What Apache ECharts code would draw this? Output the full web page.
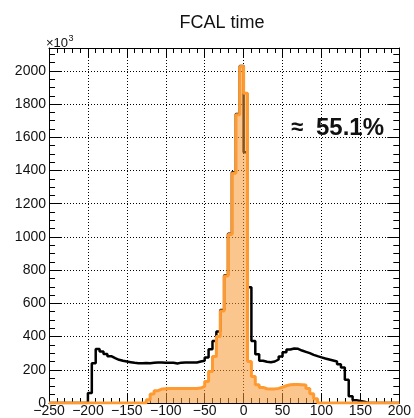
<!DOCTYPE html>
<html>
<head>
<meta charset="utf-8">
<script src="https://cdn.jsdelivr.net/npm/echarts@6/dist/echarts.min.js"></script>
<style>
  html, body { margin: 0; padding: 0; background: #fff; }
  #chart { width: 414px; height: 418px; }
</style>
</head>
<body>
<div id="chart"></div>
<script>
// FCAL hit time distribution: 5 ns bins from -250 ns to 200 ns, counts in units of 10^3
const binLow = -250;
const binWidth = 5;
const binHigh = 200;

// all FCAL hits
const allHits = [
  0, 0, 0, 0, 0, 0, 0, 0, 0, 0,
  60, 240, 325, 310, 295, 282, 270, 260, 254, 250,
  246, 242, 240, 240, 241, 240, 242, 244, 244, 243,
  243, 242, 238, 243, 244, 244, 244, 244, 250, 254,
  274, 324, 374, 430, 560, 770, 1020, 1390, 1740, 2030,
  1510, 697, 374, 294, 254, 248, 246, 250, 262, 280,
  305, 322, 328, 326, 316, 308, 300, 290, 282, 275,
  268, 262, 256, 250, 234, 214, 140, 40, 16, 12,
  8, 0, 0, 0, 0, 0, 0, 0, 0, 0
];

// selected hits (filled histogram)
const selectedHits = [
  0, 0, 0, 0, 0, 0, 0, 0, 0, 0,
  0, 0, 0, 0, 0, 0, 0, 0, 0, 0,
  0, 0, 0, 0, 0, 20, 54, 74, 84, 86,
  87, 88, 87, 88, 88, 88, 88, 88, 90, 100,
  130, 190, 280, 400, 554, 765, 1015, 1384, 1736, 2026,
  1866, 250, 160, 110, 94, 86, 84, 85, 88, 95,
  104, 110, 112, 112, 110, 108, 88, 56, 26, 0,
  0, 0, 0, 0, 0, 0, 0, 0, 0, 0,
  0, 0, 0, 0, 0, 0, 0, 0, 0, 0
];

const yMax = 2138;
const titleText = 'FCAL time';
const fractionText = '55.1%';

const FONT = '"Liberation Sans", Arial, Helvetica, sans-serif';
const INK = '#111';

// bin edges -> step points (left edge of each bin, plus the closing edge)
function stepPoints(counts) {
  const pts = counts.map((c, i) => [binLow + i * binWidth, c]);
  pts.push([binHigh, counts[counts.length - 1]]);
  return pts;
}

const minus = v => (v < 0 ? '\u2212' + (-v) : String(v));

const xCommon = {
  type: 'value', min: binLow, max: binHigh, interval: 50,
  axisLine: { show: true, onZero: false, lineStyle: { color: '#000', width: 1 } },
  axisTick: { show: true, inside: true, length: 9, lineStyle: { color: '#000', width: 1 } },
  minorTick: { show: true, splitNumber: 5, length: 5, lineStyle: { color: '#000', width: 1 } }
};
const yMajor = {
  type: 'value', min: 0, max: yMax, interval: 200,
  axisLine: { show: true, onZero: false, lineStyle: { color: '#000', width: 1 } },
  axisTick: { show: true, inside: true, length: 12, lineStyle: { color: '#000', width: 1 } }
};
const yMinor = {
  type: 'value', min: 0, max: yMax, interval: 50,
  axisLine: { show: false, onZero: false },
  axisTick: { show: true, inside: true, length: 6, lineStyle: { color: '#000', width: 1 } },
  axisLabel: { show: false },
  splitLine: { show: false }
};

const chart = echarts.init(document.getElementById('chart'), null, { renderer: 'canvas' });
chart.setOption({
  animation: false,
  backgroundColor: '#fff',
  grid: { left: 49, right: 12, top: 48, bottom: 14, containLabel: false },
  xAxis: [
    Object.assign({}, xCommon, {
      position: 'bottom',
      splitLine: { show: true, lineStyle: { color: '#000', width: 1, type: [1, 2] } },
      axisLabel: { show: true, margin: 1, fontSize: 14, color: INK, fontFamily: FONT, formatter: minus }
    }),
    Object.assign({}, xCommon, {
      position: 'top',
      splitLine: { show: false },
      axisLabel: { show: false }
    })
  ],
  yAxis: [
    Object.assign({}, yMajor, {
      position: 'left',
      splitLine: { show: true, lineStyle: { color: '#000', width: 1, type: [1, 2] } },
      axisLabel: {
        show: true, margin: 3, fontSize: 14, color: INK, fontFamily: FONT,
        formatter: v => (v % 200 === 0 && v <= 2000 ? String(v) : '')
      }
    }),
    Object.assign({}, yMinor, { position: 'left' }),
    Object.assign({}, yMajor, {
      position: 'right',
      splitLine: { show: false },
      axisLabel: { show: false }
    }),
    Object.assign({}, yMinor, { position: 'right' })
  ],
  graphic: [
    { type: 'text', x: 222, y: 23, z: 10,
      style: { text: titleText, font: '18px ' + FONT, fill: INK,
               textAlign: 'center', textVerticalAlign: 'middle', align: 'center', verticalAlign: 'middle' } },
    { type: 'text', x: 46, y: 43.5, z: 10,
      style: { text: '\u00d710', font: '13px ' + FONT, fill: INK,
               textAlign: 'left', textVerticalAlign: 'middle', align: 'left', verticalAlign: 'middle' } },
    { type: 'text', x: 68.5, y: 39, z: 10,
      style: { text: '3', font: '9px ' + FONT, fill: INK,
               textAlign: 'left', textVerticalAlign: 'middle', align: 'left', verticalAlign: 'middle' } },
    { type: 'text', x: 291, y: 128, z: 10,
      style: { text: '\u2248', font: 'bold 22px ' + FONT, fill: INK,
               textAlign: 'left', textVerticalAlign: 'middle', align: 'left', verticalAlign: 'middle' } },
    { type: 'text', x: 316, y: 128, z: 10,
      style: { text: fractionText, font: 'bold 24px ' + FONT, fill: INK,
               textAlign: 'left', textVerticalAlign: 'middle', align: 'left', verticalAlign: 'middle' } }
  ],
  series: [
    {
      name: 'all', type: 'line', step: 'end', symbol: 'none', z: 2,
      xAxisIndex: 0, yAxisIndex: 0,
      data: stepPoints(allHits),
      lineStyle: { color: '#000', width: 2.5 }
    },
    {
      name: 'selected', type: 'line', step: 'end', symbol: 'none', z: 3,
      xAxisIndex: 0, yAxisIndex: 0,
      data: stepPoints(selectedHits),
      lineStyle: { color: '#ff9a30', width: 3 },
      areaStyle: { color: 'rgba(248,150,50,0.55)', opacity: 1 }
    }
  ]
});
</script>
</body>
</html>
